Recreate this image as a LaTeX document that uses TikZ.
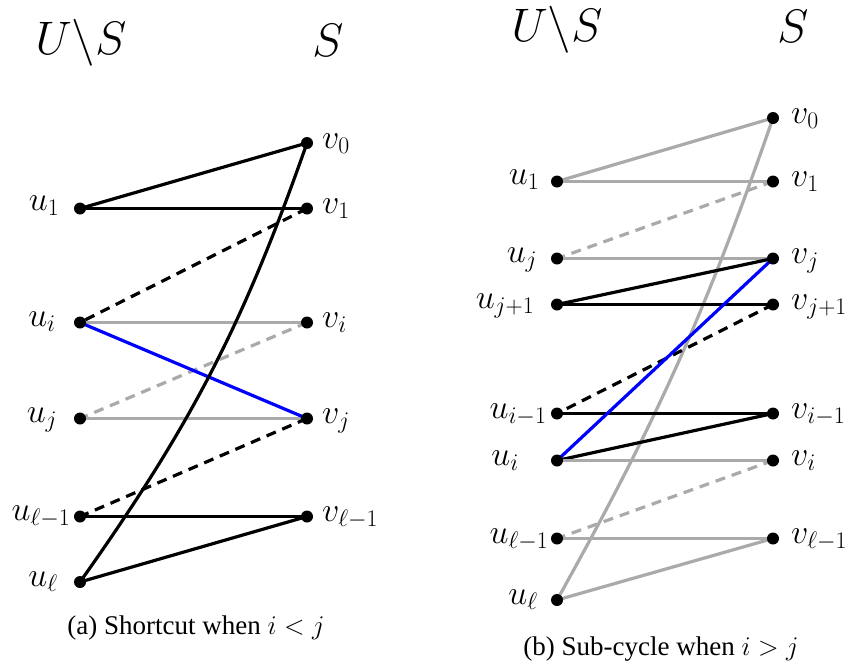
\RequirePackage{fix-cm}
\documentclass[tikz,border=0pt]{standalone}
\usepackage{fontspec}
\newfontfamily\capfont{Liberation Serif}
\definecolor{lgray}{RGB}{170,170,170}
\begin{document}
\begin{tikzpicture}[x=1pt,y=1pt,
  dot/.style={circle,fill=black,inner sep=0pt,minimum size=12pt},
  thk/.style={line width=3.2pt},
  blk/.style={thk,draw=black},
  gry/.style={thk,draw=lgray},
  blu/.style={thk,draw=blue},
  dsh/.style={dash pattern=on 10pt off 7pt},
  lab/.style={font=\fontsize{34}{40}\selectfont,inner sep=0pt},
  ulab/.style={lab,anchor=base},
  vlab/.style={lab,anchor=base west},
  ttl/.style={font=\fontsize{47}{54}\selectfont,inner sep=0pt,anchor=base},
  captext/.style={inner sep=0pt,anchor=base,font=\capfont\fontsize{27}{30}\selectfont}]
\useasboundingbox (0,0) rectangle (849,-670);

% ---------------- (a) ----------------
\node[ttl] (aUS) at (81,-54) {$U\backslash S$};
\node[ttl] (aS) at (328,-56) {$S$};

\coordinate (av0) at (307,-143);
\coordinate (au1) at (80,-208.5);  \coordinate (av1) at (307,-208.5);
\coordinate (aui) at (80,-322.5);  \coordinate (avi) at (307,-322.5);
\coordinate (auj) at (80,-418.5);  \coordinate (avj) at (307,-418.5);
\coordinate (aulm) at (80,-516.5); \coordinate (avlm) at (307,-516.5);
\coordinate (aul) at (80,-582);

\draw[blk] (au1) -- (av0);
\draw[blk] (au1) -- (av1);
\draw[blk,dsh] (av1) -- (aui);
\draw[gry] (aui) -- (avi);
\draw[gry,dsh] (avi) -- (auj);
\draw[gry] (auj) -- (avj);
\draw[blu] (aui) -- (avj);
\draw[blk,dsh] (avj) -- (aulm);
\draw[blk] (aulm) -- (avlm);
\draw[blk] (avlm) -- (aul);
\draw[blk] (aul) to[bend right=8] (av0);

\foreach \p in {av0,au1,av1,aui,avi,auj,avj,aulm,avlm,aul}
  \node[dot] (\p d) at (\p) {};

\node[ulab] (au1l) at (44,-210) {$u_1$};
\node[ulab] (auil) at (42,-326) {$u_i$};
\node[ulab] (aujl) at (42,-422) {$u_j$};
\node[ulab] (aulml) at (41,-520) {$u_{\ell-1}$};
\node[ulab] (aull) at (43,-586) {$u_\ell$};

\node[vlab] (av0l) at (322,-148) {$v_0$};
\node[vlab] (av1l) at (322,-213) {$v_1$};
\node[vlab] (avil) at (322,-327) {$v_i$};
\node[vlab] (avjl) at (322,-423) {$v_j$};
\node[vlab] (avlml) at (322,-521) {$v_{\ell-1}$};

\node[captext] (acap) at (196,-634) {(a) Shortcut when $i<j$};

% ---------------- (b) ----------------
\node[ttl] (bUS) at (557,-41) {$U\backslash S$};
\node[ttl] (bS) at (793,-42) {$S$};

\coordinate (bv0) at (773,-118);
\coordinate (bu1) at (557,-181.5);  \coordinate (bv1) at (773,-181.5);
\coordinate (buj) at (557,-258.5);  \coordinate (bvj) at (773,-258.5);
\coordinate (bujp) at (557,-304.5); \coordinate (bvjp) at (773,-304.5);
\coordinate (buim) at (557,-413.5); \coordinate (bvim) at (773,-413.5);
\coordinate (bui) at (557,-460.5);  \coordinate (bvi) at (773,-460.5);
\coordinate (bulm) at (557,-538.5); \coordinate (bvlm) at (773,-538.5);
\coordinate (bul) at (557,-600);

\draw[gry] (bul) to[bend right=5] (bv0);
\draw[gry] (bu1) -- (bv0);
\draw[gry] (bu1) -- (bv1);
\draw[gry,dsh] (bv1) -- (buj);
\draw[gry] (buj) -- (bvj);
\draw[blk] (bvj) -- (bujp);
\draw[blk] (bujp) -- (bvjp);
\draw[blk,dsh] (bvjp) -- (buim);
\draw[blk] (buim) -- (bvim);
\draw[blk] (bvim) -- (bui);
\draw[gry] (bui) -- (bvi);
\draw[gry,dsh] (bvi) -- (bulm);
\draw[gry] (bulm) -- (bvlm);
\draw[gry] (bvlm) -- (bul);
\draw[blu] (bui) -- (bvj);

\foreach \p in {bv0,bu1,bv1,buj,bvj,bujp,bvjp,buim,bvim,bui,bvi,bulm,bvlm,bul}
  \node[dot] (\p d) at (\p) {};

\node[ulab] (bu1l) at (524,-184) {$u_1$};
\node[ulab] (bujl) at (522,-262) {$u_j$};
\node[ulab] (bujpl) at (505,-308) {$u_{j+1}$};
\node[ulab] (buiml) at (518,-418) {$u_{i-1}$};
\node[ulab] (buil) at (505,-465) {$u_i$};
\node[ulab] (bulml) at (519,-543) {$u_{\ell-1}$};
\node[ulab] (bull) at (523,-604) {$u_\ell$};

\node[vlab] (bv0l) at (791,-123) {$v_0$};
\node[vlab] (bv1l) at (791,-186) {$v_1$};
\node[vlab] (bvjl) at (791,-263) {$v_j$};
\node[vlab] (bvjpl) at (791,-309) {$v_{j+1}$};
\node[vlab] (bviml) at (791,-418) {$v_{i-1}$};
\node[vlab] (bvil) at (791,-465) {$v_i$};
\node[vlab] (bvlml) at (791,-543) {$v_{\ell-1}$};

\node[captext] (bcap) at (661,-655) {(b) Sub-cycle when $i>j$};
\end{tikzpicture}
\end{document}
